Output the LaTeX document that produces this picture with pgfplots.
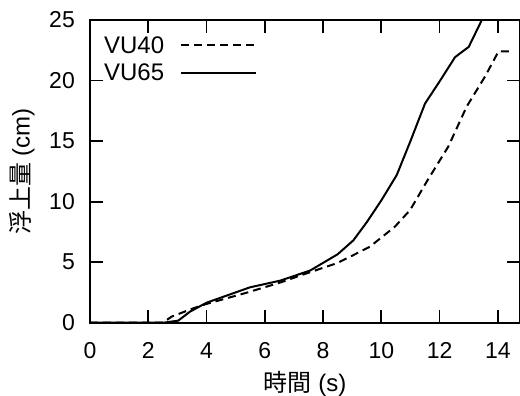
\documentclass[border=0pt]{standalone}
\usepackage{pgfplots}
\pgfplotsset{compat=1.18}
\usepackage{fontspec}
\setmainfont{Liberation Sans}
\newfontfamily\cjk{Noto Sans CJK JP}
\begin{document}
\begin{tikzpicture}
\begin{axis}[
  scale only axis,
  width=430pt, height=302.7pt,
  xmin=0, xmax=14.76, ymin=0, ymax=25,
  xtick={0,2,...,14}, ytick={0,5,...,25},
  tick align=inside,
  major tick length=13pt,
  tick style={line width=1.8pt, black},
  axis line style={line width=2pt},
  /pgf/number format/assume math mode=true,
  ticklabel style={font=\fontsize{23}{26}\selectfont, inner sep=0pt},
  yticklabel style={anchor=east, xshift=-15pt},
  xticklabel style={anchor=north, yshift=-20pt},
  xlabel={{\cjk 時間} (s)},
  ylabel={{\cjk 浮上量} (cm)},
  label style={font=\fontsize{24}{26}\selectfont, inner sep=0pt},
  xlabel style={at={(axis description cs:0.5,-0.2025)}, anchor=center},
  ylabel style={at={(axis description cs:-0.158,0.5)}, anchor=center, rotate=0},
  legend plot pos=right,
  legend style={draw=none, fill=none, at={(0.03,0.95)}, anchor=north west,
    font=\fontsize{24}{26.7}\selectfont, row sep=7pt, inner sep=0pt,
    nodes={inner sep=1pt}},
  legend cell align=left,
  legend image code/.code={\path (0pt,0pt); \draw[#1] (15pt,0pt) -- (90pt,0pt);},
  clip=true,
]
\addplot[black, line width=2pt, dash pattern=on 8pt off 5pt] coordinates {
 (0,0) (2.5,0) (2.8,0.5) (3.55,1.19) (4.0,1.55) (5.38,2.48) (6.52,3.31)
 (7.44,4.08) (8.47,4.91) (8.93,5.45) (9.61,6.28) (10.47,7.94) (10.99,9.31)
 (11.56,11.66) (12.3,14.55) (12.93,17.85) (13.56,20.33) (14.02,22.4) (14.48,22.4)
};
\addlegendentry{VU40}
\addplot[black, line width=2pt] coordinates {
 (0,0) (2.52,0) (3.03,0.17) (3.43,0.91) (4.0,1.65) (5.49,2.92) (6.52,3.47)
 (7.55,4.3) (8.5,5.65) (9.04,6.8) (9.5,8.3) (10.01,10.14) (10.53,12.2)
 (11.0,15.0) (11.5,18.1) (12.02,20.0) (12.53,21.93) (13.0,22.78) (13.45,25) (13.5,25.2)
};
\addlegendentry{VU65}
\end{axis}
\pgfresetboundingbox
\useasboundingbox (-90pt,-73.3pt) rectangle (430pt,322.7pt);
\end{tikzpicture}
\end{document}
